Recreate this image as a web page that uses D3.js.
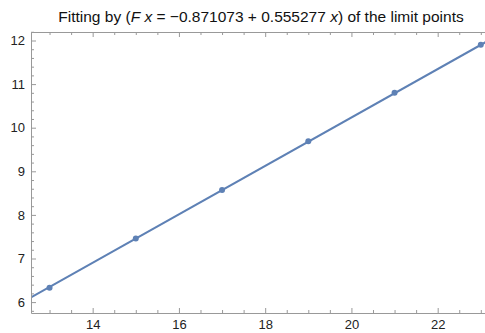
<!DOCTYPE html>
<html>
<head>
<meta charset="utf-8">
<script src="https://cdn.jsdelivr.net/npm/d3@7"></script>
<style>
  body { margin: 0; background: #fff; }
  svg { display: block; font-family: "Liberation Sans", Arial, sans-serif; }
</style>
</head>
<body>
<svg id="chart" width="485" height="333"></svg>
<script>
// limit points
const xs = [13, 15, 17, 19, 21, 23]
const ys = [6.33, 7.46, 8.57, 9.69, 10.80, 11.90]
// fitted line F x = a + b x
const fitCoef = [-0.871073, 0.555277]
const xTicks = [14, 16, 18, 20, 22]
const yTicks = [6, 7, 8, 9, 10, 11, 12]

const W = 485, H = 333
const margin = {top: 32, right: -4, bottom: 20, left: 31}
const color = "#5E81B5"
const frame = "#999"

const svg = d3.select("#chart")

const x = d3.scaleLinear().domain([12.57, 23.19]).range([margin.left, W - margin.right])
const y = d3.scaleLinear().domain([5.75, 12.195]).range([H - margin.bottom, margin.top])

const plot = svg.append("g")
svg.append("clipPath").attr("id", "clip")
  .append("rect")
  .attr("x", margin.left).attr("y", margin.top)
  .attr("width", W - margin.left - margin.right)
  .attr("height", H - margin.top - margin.bottom)

// minor ticks
const xMinor = d3.range(12.5, 23.6, 0.5).filter(v => v >= x.domain()[0] && Math.abs(v % 2) > 1e-6)
const yMinor = d3.range(5.8, 12.21, 0.2).filter(v => Math.abs(v - Math.round(v)) > 1e-6)

function drawAxis(fn, scale, major, minor, transform, labels) {
  const a = fn(scale).tickValues(major).tickSizeInner(-5).tickSizeOuter(0)
    .tickPadding(6).tickFormat(d3.format("d"))
  const b = fn(scale).tickValues(minor).tickSizeInner(-3).tickSizeOuter(0).tickFormat("")
  const g = svg.append("g").attr("transform", transform).call(a)
  svg.append("g").attr("transform", transform).call(b)
    .call(s => s.select(".domain").remove())
  if (!labels) g.selectAll("text").remove()
  return g
}

const bottom = drawAxis(d3.axisBottom, x, xTicks, xMinor, `translate(0,${H - margin.bottom})`, true)
drawAxis(d3.axisTop, x, xTicks, xMinor, `translate(0,${margin.top})`, false)
const left = drawAxis(d3.axisLeft, y, yTicks, yMinor, `translate(${margin.left},0)`, true)

svg.selectAll(".domain").attr("stroke", frame)
svg.selectAll(".tick line").attr("stroke", frame)
svg.selectAll(".tick text").attr("fill", "#222").style("font-size", "13px")
bottom.selectAll(".tick text").attr("dy", "0.75em")

// fit line over the whole range
const line = d3.line().x(d => x(d)).y(d => y(fitCoef[0] + fitCoef[1] * d))
plot.append("path")
  .attr("clip-path", "url(#clip)")
  .datum(x.domain())
  .attr("fill", "none")
  .attr("stroke", color)
  .attr("stroke-width", 2)
  .attr("d", line)

plot.selectAll("circle")
  .data(xs.map((v, i) => [v, ys[i]]))
  .join("circle")
  .attr("cx", d => x(d[0]))
  .attr("cy", d => y(d[1]))
  .attr("r", 3)
  .attr("fill", color)

// title
const title = svg.append("text")
  .attr("x", 261)
  .attr("y", 22)
  .attr("text-anchor", "middle")
  .style("font-size", "15.5px")
  .attr("fill", "#111")
title.append("tspan").text("Fitting by (")
title.append("tspan").style("font-style", "italic").text("F")
title.append("tspan").text(" ")
title.append("tspan").style("font-style", "italic").text("x")
title.append("tspan").text(" = \u22120.871073 + 0.555277 ")
title.append("tspan").style("font-style", "italic").text("x")
title.append("tspan").text(") of the limit points")
</script>
</body>
</html>
